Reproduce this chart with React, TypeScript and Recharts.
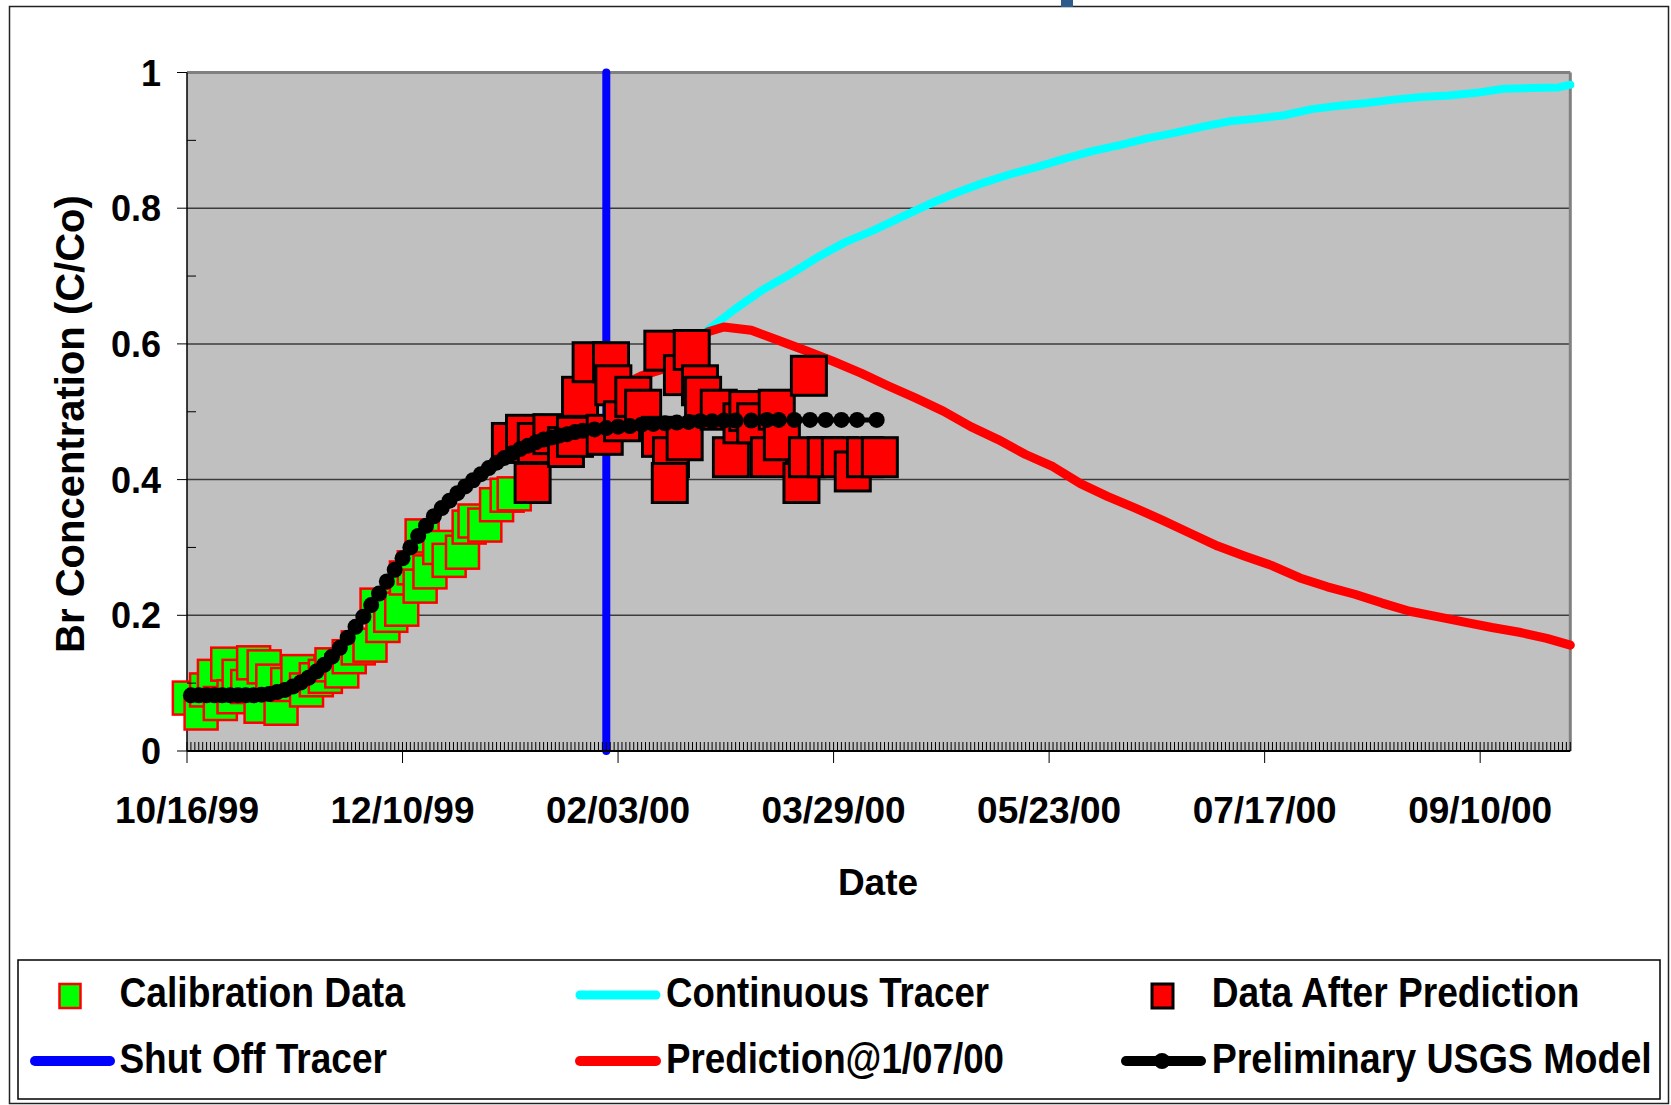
import React from 'react'
import {
  ComposedChart,
  Line,
  Scatter,
  XAxis,
  YAxis,
  CartesianGrid,
  ReferenceLine,
} from 'recharts'

// days counted from 10/16/99
const calibDays = [0.6, 3.6, 5, 7, 8.5, 10.4, 12, 13.3, 15.5, 17, 18.9, 19.7, 21.9, 24, 25.7, 28.3, 30.5, 33, 35.3, 37, 39.5, 41.4, 43.7, 46.7, 48.5, 50, 52, 54.8, 56, 58, 59.5, 60, 62, 64.5, 66.9, 70.3, 72, 73.5, 76, 79, 81.7, 83.5]
const calibValues = [0.078, 0.056, 0.09, 0.11, 0.07, 0.128, 0.08, 0.11, 0.095, 0.13, 0.066, 0.124, 0.103, 0.063, 0.098, 0.117, 0.09, 0.105, 0.11, 0.127, 0.118, 0.139, 0.152, 0.156, 0.215, 0.185, 0.2, 0.209, 0.255, 0.27, 0.243, 0.317, 0.264, 0.3, 0.281, 0.293, 0.33, 0.339, 0.333, 0.363, 0.377, 0.379]

const afterDays = [82.4, 86, 88.2, 89, 93, 96.7, 99, 100.3, 103, 106.6, 108.2, 108.8, 111, 113.9, 116.4, 120.7, 121.3, 123.5, 123.2, 126.3, 127, 128.8, 130.9, 131.7, 135.7, 138.8, 141.5, 143, 145, 148.5, 150.5, 151.8, 156.8, 158.7, 158.2, 163, 166.6, 169.9, 173, 176.8]
const afterValues = [0.454, 0.466, 0.395, 0.454, 0.467, 0.448, 0.463, 0.522, 0.573, 0.466, 0.573, 0.539, 0.486, 0.522, 0.503, 0.463, 0.59, 0.433, 0.395, 0.554, 0.458, 0.591, 0.539, 0.522, 0.503, 0.433, 0.483, 0.501, 0.483, 0.433, 0.503, 0.458, 0.395, 0.553, 0.433, 0.433, 0.433, 0.412, 0.433, 0.433]

const continuousDays = [108, 116, 121, 127, 133, 140, 147, 154, 161, 168, 175, 182, 189, 196, 203, 210, 217, 224, 231, 238, 245, 252, 259, 266, 273, 280, 287, 294, 301, 308, 315, 322, 329, 336, 343, 350, 353]
const continuousValues = [0.53, 0.553, 0.562, 0.59, 0.621, 0.652, 0.68, 0.703, 0.728, 0.75, 0.767, 0.786, 0.805, 0.822, 0.837, 0.85, 0.861, 0.873, 0.884, 0.893, 0.903, 0.911, 0.92, 0.928, 0.932, 0.937, 0.946, 0.951, 0.955, 0.96, 0.964, 0.966, 0.97, 0.976, 0.977, 0.978, 0.982]

const predictionDays = [108, 116, 121, 127, 133, 137, 144, 151, 158, 165, 172, 179, 186, 193, 200, 207, 214, 221, 228, 235, 242, 249, 256, 263, 270, 277, 284, 291, 298, 305, 312, 319, 326, 333, 340, 347, 353]
const predictionValues = [0.53, 0.553, 0.562, 0.59, 0.618, 0.625, 0.62, 0.605, 0.59, 0.574, 0.557, 0.538, 0.52, 0.501, 0.478, 0.459, 0.437, 0.419, 0.394, 0.375, 0.358, 0.34, 0.321, 0.302, 0.287, 0.273, 0.255, 0.242, 0.231, 0.218, 0.206, 0.198, 0.19, 0.182, 0.175, 0.166, 0.156]

const modelDays = [1, 3, 5, 7, 9, 11, 13, 15, 17, 19, 21, 23, 25, 27, 29, 31, 33, 35, 37, 39, 41, 43, 45, 47, 49, 51, 53, 55, 57, 59, 61, 63, 65, 67, 69, 71, 73, 75, 77, 79, 81, 83, 85, 87, 89, 91, 93, 95, 97, 99, 101, 104, 107, 110, 113, 116, 119, 122, 125, 128, 131, 134, 137, 140, 144, 148, 151, 155, 159, 163, 167, 171, 176]
const modelValues = [0.082, 0.082, 0.082, 0.082, 0.082, 0.082, 0.082, 0.082, 0.082, 0.083, 0.084, 0.087, 0.09, 0.095, 0.101, 0.108, 0.117, 0.127, 0.139, 0.152, 0.167, 0.183, 0.198, 0.215, 0.232, 0.25, 0.267, 0.284, 0.3, 0.317, 0.332, 0.346, 0.358, 0.369, 0.38, 0.39, 0.399, 0.408, 0.417, 0.425, 0.432, 0.439, 0.445, 0.45, 0.455, 0.459, 0.462, 0.465, 0.467, 0.47, 0.472, 0.474, 0.476, 0.478, 0.479, 0.481, 0.482, 0.483, 0.484, 0.485, 0.486, 0.486, 0.487, 0.487, 0.487, 0.488, 0.488, 0.488, 0.488, 0.488, 0.488, 0.488, 0.488]

const shutOffDay = 107
const shutOffValues = [0, 1]

const xMajorDays = [0, 55, 110, 165, 220, 275, 330]
const xMajorLabels = ['10/16/99', '12/10/99', '02/03/00', '03/29/00', '05/23/00', '07/17/00', '09/10/00']
const yTicks = [0, 0.1, 0.2, 0.3, 0.4, 0.5, 0.6, 0.7, 0.8, 0.9, 1]
const yGrid = [0.2, 0.4, 0.6, 0.8]

const xMax = 353
const xTicks: number[] = []
for (let d = 0; d <= xMax; d++) xTicks.push(d)

const toRows = (days: number[], vals: number[]) => days.map((day, i) => ({ day, v: vals[i] }))

const calibData = toRows(calibDays, calibValues)
const afterData = toRows(afterDays, afterValues)
const continuousData = toRows(continuousDays, continuousValues)
const predictionData = toRows(predictionDays, predictionValues)
const modelData = toRows(modelDays, modelValues)
const shutOffData = shutOffValues.map((v) => ({ day: shutOffDay, v }))

const FONT = '"Liberation Sans", Arial, sans-serif'

const XTick = (props: any) => {
  const { x, y, payload } = props
  const idx = xMajorDays.indexOf(payload.value)
  const major = idx >= 0
  return (
    <g>
      <line x1={x} x2={x} y1={y - 9} y2={major ? y + 12 : y} stroke="#000" strokeWidth={1} />
      {major && (
        <text x={x} y={y + 72} textAnchor="middle" fontFamily={FONT} fontWeight="bold" fontSize={37} fill="#000">
          {xMajorLabels[idx]}
        </text>
      )}
    </g>
  )
}

const YTick = (props: any) => {
  const { x, y, payload } = props
  const tenth = Math.round(payload.value * 10)
  const major = tenth % 2 === 0
  const label = tenth === 0 ? '0' : tenth === 10 ? '1' : (tenth / 10).toFixed(1)
  return (
    <g>
      {major ? (
        <line x1={x - 10} x2={x} y1={y} y2={y} stroke="#000" strokeWidth={1} />
      ) : (
        <line x1={x} x2={x + 9} y1={y} y2={y} stroke="#000" strokeWidth={1} />
      )}
      {major && (
        <text x={x - 26} y={y + 13} textAnchor="end" fontFamily={FONT} fontWeight="bold" fontSize={36} fill="#000">
          {label}
        </text>
      )}
    </g>
  )
}

const GreenSquare = (props: any) => {
  const { cx, cy } = props
  return <rect x={cx - 16.5} y={cy - 16.5} width={33} height={33} fill="#00ff00" stroke="#ff0000" strokeWidth={2.5} />
}

const RedSquare = (props: any) => {
  const { cx, cy } = props
  return <rect x={cx - 17.5} y={cy - 19.5} width={35} height={39} fill="#ff0000" stroke="#000" strokeWidth={3} />
}

const ModelDot = (props: any) => {
  const { cx, cy } = props
  if (cx == null || cy == null) return null
  return <circle cx={cx} cy={cy} r={8} fill="#000" />
}

// legend text: natural width at 37.5px, stretched a little taller
const legendText = (x: number, y: number, w: number, s: string) => (
  <text
    transform={`translate(${x}, ${y}) scale(1, 1.12)`}
    textLength={w}
    lengthAdjust="spacingAndGlyphs"
    fontFamily={FONT}
    fontWeight="bold"
    fontSize={37.5}
    fill="#000"
  >
    {s}
  </text>
)

export default function App() {
  return (
    <div style={{ position: 'absolute', left: 0, top: 0, width: 1671, height: 1105, background: '#fff' }}>
      <ComposedChart width={1671} height={1105} margin={{ top: 72.5, right: 100.7, left: 67, bottom: 294 }}>
        <CartesianGrid
          vertical={false}
          horizontalValues={yGrid}
          stroke="#3c3c3c"
          strokeWidth={1.5}
          fill="#c0c0c0"
          fillOpacity={1}
        />
        <XAxis
          type="number"
          dataKey="day"
          domain={[0, xMax]}
          ticks={xTicks}
          interval={0}
          tick={<XTick />}
          tickLine={false}
          tickSize={0}
          tickMargin={0}
          height={60}
          axisLine={{ stroke: '#000', strokeWidth: 2 }}
        />
        <YAxis
          type="number"
          dataKey="v"
          domain={[0, 1]}
          ticks={yTicks}
          interval={0}
          tick={<YTick />}
          tickLine={false}
          tickSize={0}
          tickMargin={0}
          width={120}
          axisLine={{ stroke: '#000', strokeWidth: 1.5 }}
        />
        <ReferenceLine y={1} stroke="#808080" strokeWidth={3} />
        <ReferenceLine x={xMax} stroke="#808080" strokeWidth={3} />
        <Line
          data={shutOffData}
          dataKey="v"
          stroke="#0000ff"
          strokeWidth={8}
          strokeLinecap="round"
          dot={false}
          activeDot={false}
          isAnimationActive={false}
        />
        <Line
          data={continuousData}
          dataKey="v"
          stroke="#00ffff"
          strokeWidth={8}
          strokeLinecap="round"
          strokeLinejoin="round"
          dot={false}
          activeDot={false}
          isAnimationActive={false}
        />
        <Line
          data={predictionData}
          dataKey="v"
          stroke="#ff0000"
          strokeWidth={9}
          strokeLinecap="round"
          strokeLinejoin="round"
          dot={false}
          activeDot={false}
          isAnimationActive={false}
        />
        <Scatter data={calibData} dataKey="v" shape={<GreenSquare />} isAnimationActive={false} />
        <Scatter data={afterData} dataKey="v" shape={<RedSquare />} isAnimationActive={false} />
        <Line
          data={modelData}
          dataKey="v"
          stroke="#000"
          strokeWidth={5}
          dot={<ModelDot />}
          activeDot={false}
          isAnimationActive={false}
        />
      </ComposedChart>

      <svg
        width={1671}
        height={1105}
        style={{ position: 'absolute', left: 0, top: 0, pointerEvents: 'none' }}
      >
        <rect x={9.5} y={6.5} width={1659} height={1097} fill="none" stroke="#222" strokeWidth={1.5} />
        <rect x={1061} y={0} width={12} height={7} fill="#2e5c8a" />

        <text
          transform="translate(84, 424) rotate(-90)"
          textAnchor="middle"
          fontFamily={FONT}
          fontWeight="bold"
          fontSize={40}
          fill="#000"
        >
          Br Concentration (C/Co)
        </text>
        <text x={878} y={895} textAnchor="middle" fontFamily={FONT} fontWeight="bold" fontSize={37} fill="#000">
          Date
        </text>

        <rect x={18} y={960} width={1642} height={139} fill="#fff" stroke="#000" strokeWidth={1.5} />

        <rect x={59.5} y={984} width={21} height={24} fill="#00ff00" stroke="#ff0000" strokeWidth={2.5} />
        {legendText(119.4, 1007, 285.6, 'Calibration Data')}

        <line x1={580} y1={995} x2={656} y2={995} stroke="#00ffff" strokeWidth={9} strokeLinecap="round" />
        {legendText(666, 1007, 323, 'Continuous Tracer')}

        <rect x={1152} y={984} width={21} height={24} fill="#ff0000" stroke="#000" strokeWidth={3} />
        {legendText(1211.7, 1007, 367.7, 'Data After Prediction')}

        <line x1={35} y1={1061} x2={110} y2={1061} stroke="#0000ff" strokeWidth={10} strokeLinecap="round" />
        {legendText(119.4, 1073, 267.5, 'Shut Off Tracer')}

        <line x1={580} y1={1061} x2={656} y2={1061} stroke="#ff0000" strokeWidth={10} strokeLinecap="round" />
        {legendText(666, 1073, 338, 'Prediction@1/07/00')}

        <line x1={1126} y1={1061} x2={1201} y2={1061} stroke="#000" strokeWidth={10} strokeLinecap="round" />
        <circle cx={1162} cy={1061} r={8} fill="#000" />
        {legendText(1211.7, 1073, 440, 'Preliminary USGS Model')}
      </svg>
    </div>
  )
}
